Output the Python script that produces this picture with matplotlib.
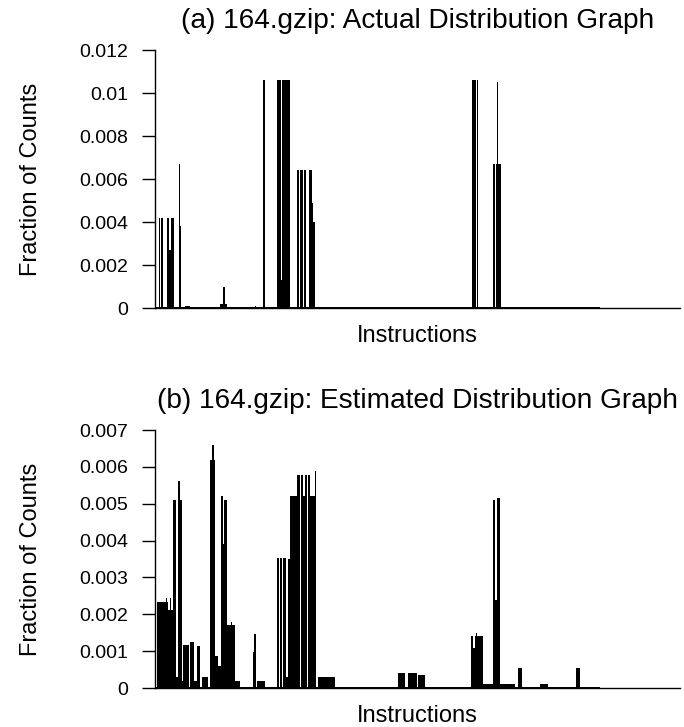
import numpy as np
import matplotlib
matplotlib.use('Agg')
import matplotlib.pyplot as plt

plt.rcParams['font.family'] = ['Liberation Sans', 'DejaVu Sans']

# Panel (a): actual distribution, stored as runs of instructions (start, end, fraction)
a_start = [0, 0, 4, 6, 11.7, 12.7, 13.5, 14.3, 16, 24, 25, 30, 40, 57, 65, 67.7, 77, 100,
           108.3, 121.7, 126.3, 127.3, 132.3, 141.7, 143.2, 145, 147.5, 149, 154, 156.7, 158.3, 180,
           316.7, 322, 337.7, 341, 341.7, 343]
a_end = [445, 1.5, 5.5, 7.7, 12.7, 13.5, 14.3, 15.7, 18.7, 25, 26.3, 35, 41, 63, 72, 70.3, 78, 101.5,
         110, 126.3, 127.3, 131.7, 135, 142.7, 144.5, 147, 148.5, 150.7, 156.7, 158.3, 159.7, 181,
         321.5, 323.3, 340.5, 341.7, 343, 345.7]
a_frac = [0.00004, 0.0042, 0.0042, 0.0042, 0.0042, 0.0033, 0.0042, 0.0027, 0.0042, 0.0067, 0.0038,
          0.00008, 0.00006, 0.00006, 0.0002, 0.001, 0.00005, 0.00008,
          0.0106, 0.0106, 0.0013, 0.0106, 0.0106, 0.0064, 0.0064, 0.0064, 0.0064, 0.0064,
          0.0064, 0.0049, 0.0040,
          0.00006, 0.0106, 0.0106, 0.0067, 0.0067, 0.0105, 0.0067]

# Panel (b): estimated distribution
b_start = [0, 0, 2, 4.2, 6.3, 9.5, 11.5, 12, 13.3, 15, 15.7, 18.3, 20.7, 22.7, 25, 26.7, 28.3, 35,
           39, 41.7, 43.5, 47, 55, 57, 59.5, 60.3, 63.3, 65.7, 68.3, 69.5, 71.7, 76, 77, 80,
           98.5, 99.3, 102, 121.7, 125, 127.8, 130.7, 133, 135, 138.5, 140, 142.3, 145.8, 148.3, 150,
           153, 155, 157.3, 160, 163, 243, 253, 263, 316, 318.5, 320, 321.5, 322.5, 325.5, 327, 328.3,
           337.7, 340, 341.7, 345, 363, 385, 421]
b_end = [445, 1.5, 3.7, 5.7, 9, 11.5, 12, 13.3, 15, 15.7, 18.3, 20.7, 22.7, 25, 26.7, 28.3, 34.3, 39,
         41.7, 42.7, 45, 53, 57, 59.5, 60.3, 63.3, 65.7, 68.3, 69.5, 71.7, 76, 77, 80, 85,
         101.5, 100.7, 110, 124.5, 127.3, 130.7, 133, 135, 138, 140, 142, 145.3, 148.3, 150, 152.5,
         155, 157.3, 160, 160.7, 180, 250, 262, 270, 318, 320, 321.5, 322.5, 325, 327, 328.3, 337.7,
         340, 341.7, 345, 360, 367, 393, 425]
b_frac = [0.00003, 0.00233, 0.00233, 0.00233, 0.00233, 0.00233, 0.00245, 0.00233, 0.00212, 0.00245,
          0.00212, 0.0051, 0.0003, 0.00563, 0.0051, 0.0002, 0.00117, 0.00124,
          0.0002, 0.00115, 0.00115, 0.0003, 0.0062, 0.0066, 0.0062, 0.00088, 0.0006, 0.0052, 0.0039,
          0.0051, 0.00172, 0.0018, 0.00172, 0.0002,
          0.00099, 0.00147, 0.0002, 0.00352, 0.00352, 0.00352, 0.0003, 0.0035, 0.0052, 0.0052, 0.0052,
          0.00578, 0.00578, 0.0052, 0.00578, 0.00578, 0.0052, 0.0052, 0.0059, 0.0003,
          0.0004, 0.0004, 0.00035,
          0.00142, 0.00108, 0.00142, 0.00148, 0.00142, 0.00142, 0.00142, 0.0001,
          0.0051, 0.0024, 0.00515, 0.0001, 0.00054, 0.0001, 0.00054]

n_instr = 525

a_ticks = [0, 0.002, 0.004, 0.006, 0.008, 0.01, 0.012]
a_labels = ['0', '0.002', '0.004', '0.006', '0.008', '0.01', '0.012']
b_ticks = [0, 0.001, 0.002, 0.003, 0.004, 0.005, 0.006, 0.007]
b_labels = ['0', '0.001', '0.002', '0.003', '0.004', '0.005', '0.006', '0.007']

fig = plt.figure(figsize=(6.84, 7.27), dpi=100)
ax_a = fig.add_axes([0.2266, 0.5763, 0.7675, 0.3549])
ax_b = fig.add_axes([0.2266, 0.0536, 0.7675, 0.3549])

panels = [
    (ax_a, a_start, a_end, a_frac, a_ticks, a_labels, '(a) 164.gzip: Actual Distribution Graph'),
    (ax_b, b_start, b_end, b_frac, b_ticks, b_labels, '(b) 164.gzip: Estimated Distribution Graph'),
]

for ax, st, en, fr, ticks, labels, title in panels:
    widths = np.subtract(en, st)
    ax.bar(st, fr, width=widths, align='edge', color='black', linewidth=0)
    ax.set_xlim(0, n_instr)
    ax.set_ylim(0, ticks[-1])
    ax.set_yticks(ticks)
    ax.set_yticklabels(labels, fontsize=14)
    ax.set_xticks([])
    ax.tick_params(axis='y', direction='out', length=9.5, width=1, pad=10)
    for s in ['top', 'right']:
        ax.spines[s].set_visible(False)
    ax.spines['left'].set_linewidth(1)
    ax.spines['bottom'].set_linewidth(1)
    ax.set_title(title, fontsize=20.2, pad=16)
    ax.set_xlabel('Instructions', fontsize=17, labelpad=12)
    ax.set_ylabel('Fraction of Counts', fontsize=17)
    ax.yaxis.set_label_coords(-0.215, 0.5)

fig.savefig('out.png', dpi=100)
